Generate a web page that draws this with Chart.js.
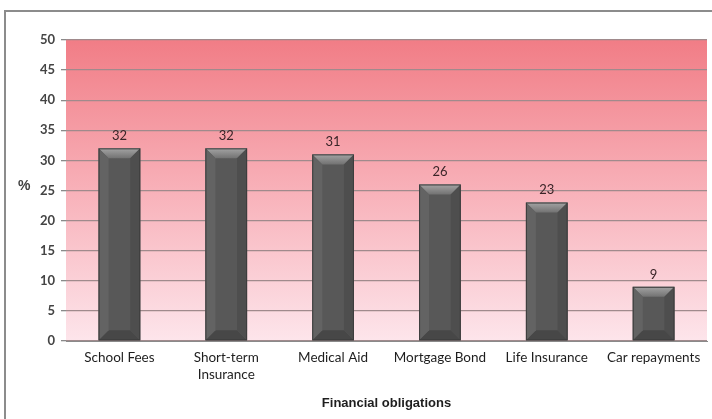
<!DOCTYPE html>
<html>
<head>
<meta charset="utf-8">
<script src="https://cdn.jsdelivr.net/npm/chart.js@4.4.1/dist/chart.umd.min.js"></script>
<style>
  html, body { margin: 0; padding: 0; background: #ffffff; }
  #wrap { width: 712px; height: 419px; position: relative; }
</style>
</head>
<body>
<div id="wrap"><canvas id="obligations"></canvas></div>
<script>
var categories = [["School Fees"], ["Short-term", "Insurance"], ["Medical Aid"], ["Mortgage Bond"], ["Life Insurance"], ["Car repayments"]];
var percentages = [32, 32, 31, 26, 23, 9];
var yTicks = [0, 5, 10, 15, 20, 25, 30, 35, 40, 45, 50];

// pink gradient behind the plot, plus the frame and the "%" label
var backdrop = {
    id: "backdrop",
    beforeDraw: function(chart) {
        var ctx = chart.ctx;
        var a = chart.chartArea;
        ctx.save();
        ctx.strokeStyle = "#8c8c8c";
        ctx.lineWidth = 2;
        ctx.beginPath();
        ctx.moveTo(5, 430);
        ctx.lineTo(5, 11);
        ctx.lineTo(720, 11);
        ctx.stroke();

        var g = ctx.createLinearGradient(0, a.top, 0, a.bottom);
        g.addColorStop(0, "#f17d86");
        g.addColorStop(0.5, "#f8b1b9");
        g.addColorStop(1, "#fde5eb");
        ctx.fillStyle = g;
        ctx.fillRect(a.left, a.top, a.right - a.left, a.bottom - a.top);

        ctx.fillStyle = "#404040";
        ctx.font = "bold 14px 'Liberation Sans'";
        ctx.textAlign = "left";
        ctx.textBaseline = "middle";
        ctx.fillText("%", 18, 186);
        ctx.restore();
    }
};

// bevelled look on each bar
var bevel = {
    id: "bevel",
    afterDatasetsDraw: function(chart) {
        var ctx = chart.ctx;
        var meta = chart.getDatasetMeta(0);
        ctx.save();
        meta.data.forEach(function(bar) {
            var l = bar.x - bar.width / 2, r = bar.x + bar.width / 2;
            var t = bar.y, b = bar.base;
            var d = Math.min(10, (b - t) / 2);

            var top = ctx.createLinearGradient(0, t, 0, t + d);
            top.addColorStop(0, "#a4a4a4");
            top.addColorStop(1, "#727272");
            ctx.fillStyle = top;
            ctx.beginPath();
            ctx.moveTo(l, t); ctx.lineTo(r, t); ctx.lineTo(r - d, t + d); ctx.lineTo(l + d, t + d);
            ctx.closePath(); ctx.fill();

            ctx.fillStyle = "#474747";
            ctx.beginPath();
            ctx.moveTo(l, b); ctx.lineTo(r, b); ctx.lineTo(r - d, b - d); ctx.lineTo(l + d, b - d);
            ctx.closePath(); ctx.fill();

            ctx.fillStyle = "#636363";
            ctx.beginPath();
            ctx.moveTo(l, t); ctx.lineTo(l + d, t + d); ctx.lineTo(l + d, b - d); ctx.lineTo(l, b);
            ctx.closePath(); ctx.fill();

            ctx.fillStyle = "#4e4e4e";
            ctx.beginPath();
            ctx.moveTo(r, t); ctx.lineTo(r - d, t + d); ctx.lineTo(r - d, b - d); ctx.lineTo(r, b);
            ctx.closePath(); ctx.fill();

            ctx.strokeStyle = "#3c3c3c";
            ctx.lineWidth = 1;
            ctx.strokeRect(l + 0.5, t + 0.5, r - l - 1, b - t - 1);
        });
        ctx.restore();
    }
};

// value printed above each bar
var valueLabels = {
    id: "valueLabels",
    afterDatasetsDraw: function(chart) {
        var ctx = chart.ctx;
        var meta = chart.getDatasetMeta(0);
        ctx.save();
        ctx.fillStyle = "#3a2528";
        ctx.font = "13px Lato";
        ctx.textAlign = "center";
        ctx.textBaseline = "bottom";
        meta.data.forEach(function(bar, i) {
            ctx.fillText(percentages[i], bar.x, bar.y - 6);
        });
        ctx.restore();
    }
};

new Chart(document.getElementById("obligations"), {
    type: "bar",
    data: {
        labels: categories,
        datasets: [{
            data: percentages,
            backgroundColor: "#585858",
            borderWidth: 0,
            categoryPercentage: 1,
            barPercentage: 0.39
        }]
    },
    options: {
        responsive: true,
        maintainAspectRatio: false,
        animation: false,
        layout: { padding: { left: 0, top: 40, right: 5, bottom: 8 } },
        plugins: {
            legend: { display: false },
            tooltip: { enabled: false }
        },
        scales: {
            x: {
                grid: { display: false, drawTicks: false },
                border: { color: "#8a8a8a", width: 1 },
                ticks: {
                    color: "#1e1e1e",
                    font: { family: "Lato", size: 13.5 },
                    padding: 9,
                    maxRotation: 0,
                    autoSkip: false
                },
                title: {
                    display: true,
                    text: "Financial obligations",
                    color: "#1e1e1e",
                    font: { family: "'Liberation Sans'", size: 13, weight: "bold" },
                    padding: { top: 4, bottom: 0 }
                }
            },
            y: {
                min: 0,
                max: 50,
                afterBuildTicks: function(scale) {
                    scale.ticks = yTicks.map(function(v) { return { value: v }; });
                },
                afterFit: function(scale) { scale.width = 66; },
                grid: { color: "#a08a8c", lineWidth: 1.3, tickLength: 5, tickColor: "#8a8a8a" },
                border: { display: false },
                ticks: {
                    color: "#444444",
                    font: { family: "Lato", size: 13, weight: "bold" },
                    padding: 6
                }
            }
        }
    },
    plugins: [backdrop, bevel, valueLabels]
});
</script>
</body>
</html>
